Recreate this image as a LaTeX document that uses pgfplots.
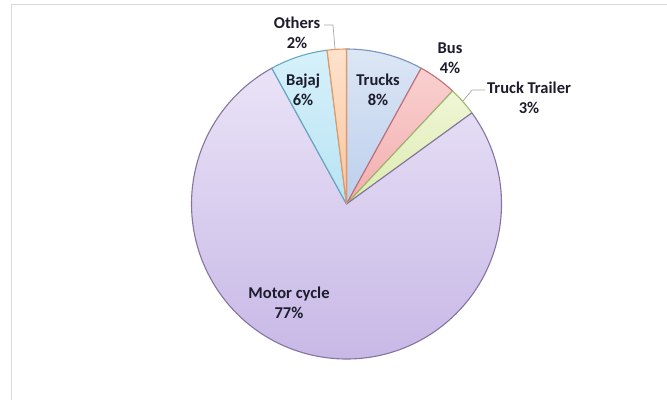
\documentclass[border=0pt]{standalone}
\usepackage{pgfplots}
\pgfplotsset{compat=1.18}
\usepackage{pgfplotstable}
\usepackage{fontspec}
\setmainfont{Carlito}

\definecolor{tA}{HTML}{DCE6F5}\definecolor{bA}{HTML}{BCCFEC}\definecolor{dA}{HTML}{7A93BE}
\definecolor{tB}{HTML}{FAD0D0}\definecolor{bB}{HTML}{F2AEAE}\definecolor{dB}{HTML}{C46E74}
\definecolor{tC}{HTML}{EFF6D6}\definecolor{bC}{HTML}{DCEBB0}\definecolor{dC}{HTML}{9DB86E}
\definecolor{tD}{HTML}{EAE3F7}\definecolor{bD}{HTML}{C5B5E5}\definecolor{dD}{HTML}{85749F}
\definecolor{tE}{HTML}{D6F1FA}\definecolor{bE}{HTML}{B9E3F3}\definecolor{dE}{HTML}{62A9C6}
\definecolor{tF}{HTML}{FDE2CC}\definecolor{bF}{HTML}{F9C59E}\definecolor{dF}{HTML}{E8965F}
\definecolor{txt}{HTML}{1C1C2C}
\definecolor{frame}{HTML}{D9D9D9}
\definecolor{lead}{HTML}{A6A6A6}

\pgfplotstableread[col sep=comma,row sep=\\]{
label,value\\
Trucks,8\\
Bus,4\\
Truck Trailer,3\\
Motor cycle,77\\
Bajaj,6\\
Others,2\\
}\piedata

\newcommand\wedgepart[4]{%
  \path[draw=#4, line width=1.1pt, top color=#2, bottom color=#3, line join=round]
    (axis cs:346.5,196) -- ++(\csname ps#1\endcsname:155pt)
    arc[start angle=\csname ps#1\endcsname, end angle=\csname pe#1\endcsname, radius=155pt] -- cycle;}

\begin{document}
\def\cur{90}%
\pgfplotsforeachungrouped \i in {0,...,5}{%
  \pgfplotstablegetelem{\i}{value}\of\piedata
  \pgfmathsetmacro\nxt{\cur-3.6*\pgfplotsretval}%
  \expandafter\xdef\csname ps\i\endcsname{\cur}%
  \expandafter\xdef\csname pe\i\endcsname{\nxt}%
  \xdef\cur{\nxt}%
}%
\begin{tikzpicture}
\begin{axis}[x=1pt, y=1pt, xmin=0, xmax=667, ymin=0, ymax=400,
  hide axis, scale only axis, clip=false, anchor=origin, at={(0,0)}]
\draw[frame, line width=1pt] (axis cs:11.5,0) -- (axis cs:11.5,395.5) -- (axis cs:667,395.5);
\wedgepart{0}{tA}{bA}{dA}
\wedgepart{1}{tB}{bB}{dB}
\wedgepart{2}{tC}{bC}{dC}
\wedgepart{3}{tD}{bD}{dD}
\wedgepart{4}{tE}{bE}{dE}
\wedgepart{5}{tF}{bF}{dF}
\draw[lead, line width=0.7pt] (axis cs:324,375) -- (axis cs:333,375) -- (axis cs:335,351);
\draw[lead, line width=0.7pt] (axis cs:485,310) -- (axis cs:472,310) -- (axis cs:463,299);
\begin{scope}[every node/.style={font=\fontsize{16.5}{20}\selectfont\bfseries, text=txt, align=center, inner sep=0pt}]
\node at (axis cs:297,367) {Others\\2\%};
\node at (axis cs:303,310) {Bajaj\\6\%};
\node at (axis cs:378,310) {Trucks\\8\%};
\node at (axis cs:450,342) {Bus\\4\%};
\node at (axis cs:529,302) {Truck Trailer\\3\%};
\node at (axis cs:289,97) {Motor cycle\\77\%};
\end{scope}
\end{axis}
\pgfresetboundingbox
\path[use as bounding box] (0,0) rectangle (667pt,400pt);
\end{tikzpicture}
\end{document}
